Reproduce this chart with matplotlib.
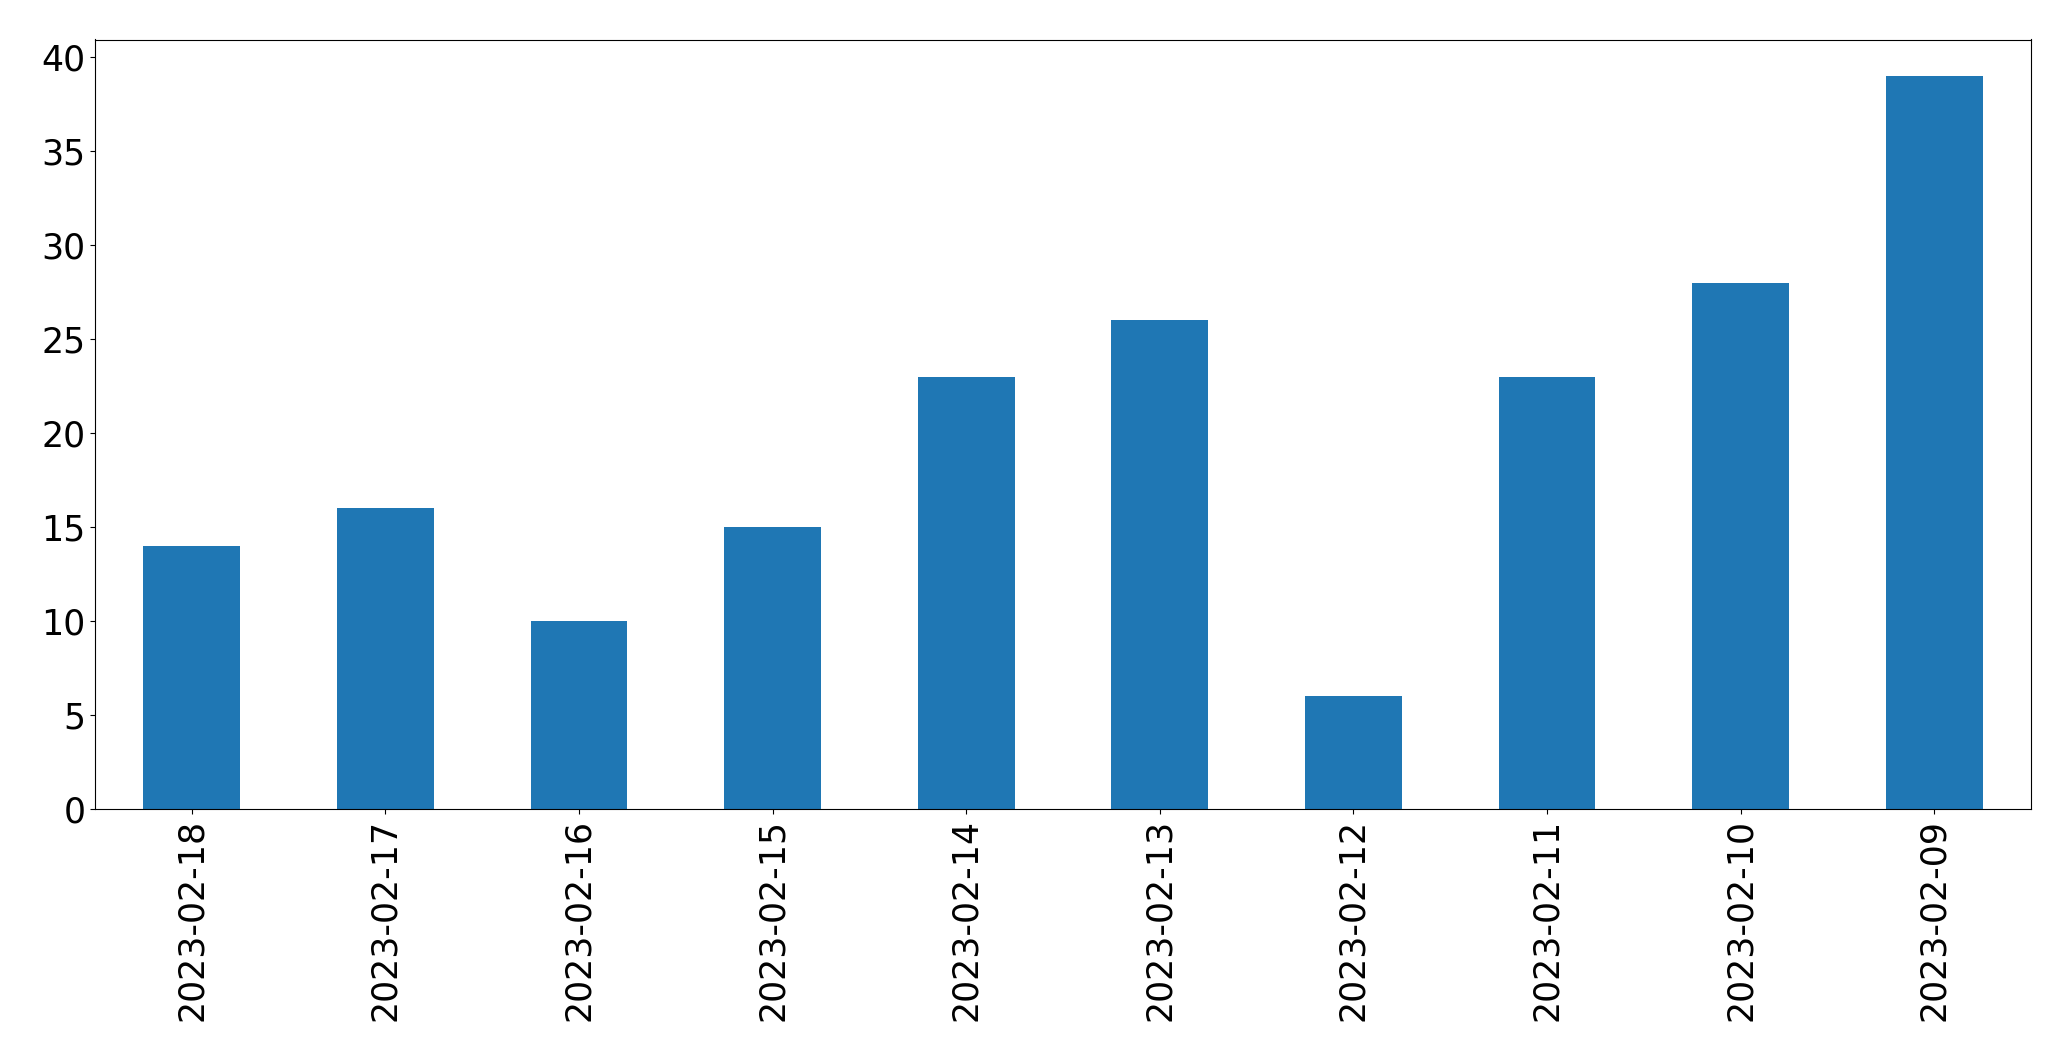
import matplotlib
matplotlib.use('Agg')
import matplotlib.pyplot as plt
import pandas as pd

dates = ['2023-02-18', '2023-02-17', '2023-02-16', '2023-02-15', '2023-02-14',
         '2023-02-13', '2023-02-12', '2023-02-11', '2023-02-10', '2023-02-09']
counts = [14, 16, 10, 15, 23, 26, 6, 23, 28, 39]

s = pd.Series(counts, index=dates)

fig, ax = plt.subplots(figsize=(20.71, 10.61), dpi=100)
s.plot(kind='bar', ax=ax, color='#1f77b4', fontsize=25)
ax.set_xlabel('')

fig.subplots_adjust(left=95 / 2071, right=2031 / 2071, top=1 - 39.5 / 1061, bottom=1 - 809 / 1061)
fig.savefig('out.png', dpi=100)
